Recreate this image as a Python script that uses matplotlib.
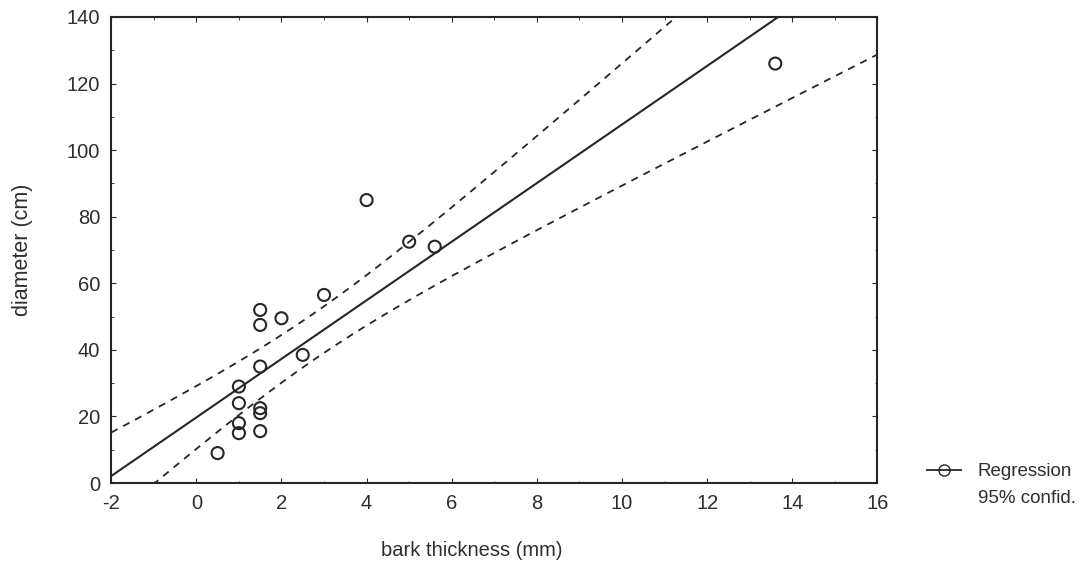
import matplotlib.pyplot as plt
import numpy as np

plt.rcParams['font.family'] = ['Liberation Sans', 'DejaVu Sans']
plt.rcParams['axes.unicode_minus'] = False

# bark thickness (mm) and diameter (cm)
bark = [0.5, 1, 1, 1, 1, 1.5, 1.5, 1.5, 1.5, 1.5, 1.5, 2, 2.5, 3, 4, 5, 5.6, 13.6]
diameter = [9, 29, 24, 18, 15, 52, 47.5, 35, 22.5, 21, 15.6, 49.5, 38.5, 56.5, 85, 72.5, 71, 126]

x_ticks = [-2, 0, 2, 4, 6, 8, 10, 12, 14, 16]
y_ticks = [0, 20, 40, 60, 80, 100, 120, 140]

# linear regression with 95% confidence band for the mean
x = np.array(bark)
y = np.array(diameter)
n = len(x)
slope, intercept = np.polyfit(x, y, 1)
resid = y - (intercept + slope * x)
s = np.sqrt(np.sum(resid ** 2) / (n - 2))
t = 2.12  # t(0.975, n-2)
xs = np.linspace(-2, 16, 200)
fit = intercept + slope * xs
se = s * np.sqrt(1 / n + (xs - x.mean()) ** 2 / np.sum((x - x.mean()) ** 2))

ink = '#262626'
txt = '#2e2e2e'

fig = plt.figure(figsize=(10.9, 5.65), dpi=100)
ax = fig.add_axes([0.102, 0.145, 0.703, 0.825])

ax.plot(xs, fit, color=ink, lw=1.5, label='Regression')
ax.plot(xs, fit + t * se, color=ink, lw=1.3, ls=(0, (4, 3.5)), label='95% confid.')
ax.plot(xs, fit - t * se, color=ink, lw=1.3, ls=(0, (4, 3.5)))
ax.scatter(bark, diameter, s=75, facecolors='none', edgecolors=ink, linewidths=1.5, zorder=3)

ax.set_xlim(-2, 16)
ax.set_ylim(0, 140)
ax.set_xticks(x_ticks)
ax.set_yticks(y_ticks)
ax.set_xticks(np.arange(-2, 17, 1), minor=True)
ax.set_yticks(np.arange(0, 141, 10), minor=True)
ax.tick_params(direction='in', which='both', top=True, right=True)
ax.tick_params(which='major', length=3.5, labelsize=14.5, labelcolor=txt, color=ink, pad=8)
ax.tick_params(which='minor', length=1.8, color=ink)
for sp in ax.spines.values():
    sp.set_linewidth(1.5)
    sp.set_color(ink)

ax.set_xlabel('bark thickness (mm)', fontsize=14.5, color=txt)
ax.xaxis.set_label_coords(0.47, -0.125)
ax.set_ylabel('diameter (cm)', fontsize=15.5, color=txt)
ax.yaxis.set_label_coords(-0.102, 0.5)

h1 = plt.Line2D([], [], color=ink, lw=1.3, marker='o', mfc='none', mec=ink, ms=8)
h2 = plt.Line2D([], [], color='none')
fig.legend([h1, h2], ['Regression', '95% confid.'], loc='upper left',
           bbox_to_anchor=(0.835, 0.21), frameon=False, fontsize=13.5,
           handlelength=1.8, handletextpad=0.9, labelspacing=0.5, labelcolor=txt)

fig.savefig('out.png', dpi=100)
